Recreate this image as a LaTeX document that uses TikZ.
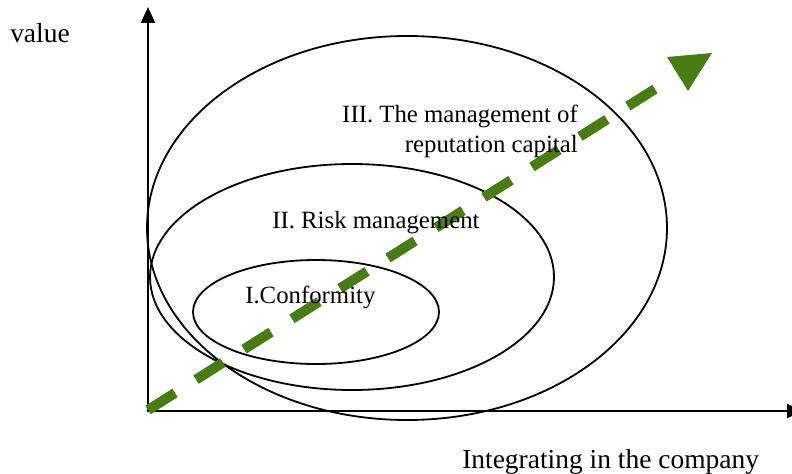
\documentclass[tikz,border=0pt]{standalone}
\usepackage{fontspec}
\setmainfont{Liberation Serif}
\usetikzlibrary{arrows.meta}
\definecolor{arrowgreen}{RGB}{72,125,22}
\tikzset{
  axis/.style={line width=1.6pt, -{Triangle[length=12pt,width=10.5pt]}},
  ring/.style={line width=1.35pt},
  lbl/.style={inner sep=0pt, font=\fontsize{18.6}{22}\selectfont},
  biglbl/.style={inner sep=0pt, font=\fontsize{20.6}{24}\selectfont},
  trend/.style={line width=7.5pt, arrowgreen, dash pattern=on 24pt off 18.6pt},
}
\begin{document}
\begin{tikzpicture}[x=0.75pt,y=-0.75pt]
\useasboundingbox (0,0) rectangle (792,474);
\clip (0,0) rectangle (792,474);
% ellipses
\coordinate (c3) at (407,228);
\coordinate (c2) at (352,277);
\coordinate (c1) at (316,312);
\draw[ring] (c3) ellipse [x radius=260, y radius=192];
\draw[ring] (c2) ellipse [x radius=202, y radius=113];
\draw[ring] (c1) ellipse [x radius=123, y radius=52];
% axes
\coordinate (O) at (148,411);
\coordinate (ytip) at (148,7);
\coordinate (xtip) at (803,411);
\draw[axis] (O) -- (ytip);
\draw[axis] ([xshift=-1pt]O) -- (xtip);
% trend arrow
\coordinate (ts) at (148,410);
\coordinate (te) at (655,89);
\draw[trend] (ts) -- (te);
\fill[arrowgreen] (667,57) -- (712,53) -- (688,91) -- cycle;
% labels
\node[biglbl, anchor=base west] (val) at (10,43) {value};
\node[biglbl, anchor=base west] (intg) at (462,468) {Integrating in the company};
\node[lbl, anchor=base east] (t3a) at (578,123) {III. The management of};
\node[lbl, anchor=base east] (t3b) at (578,152) {reputation capital};
\node[lbl, anchor=base west] (t2) at (272,228) {II. Risk management};
\node[lbl, anchor=base west] (t1) at (245,303) {I.Conformity};
\end{tikzpicture}
\end{document}
